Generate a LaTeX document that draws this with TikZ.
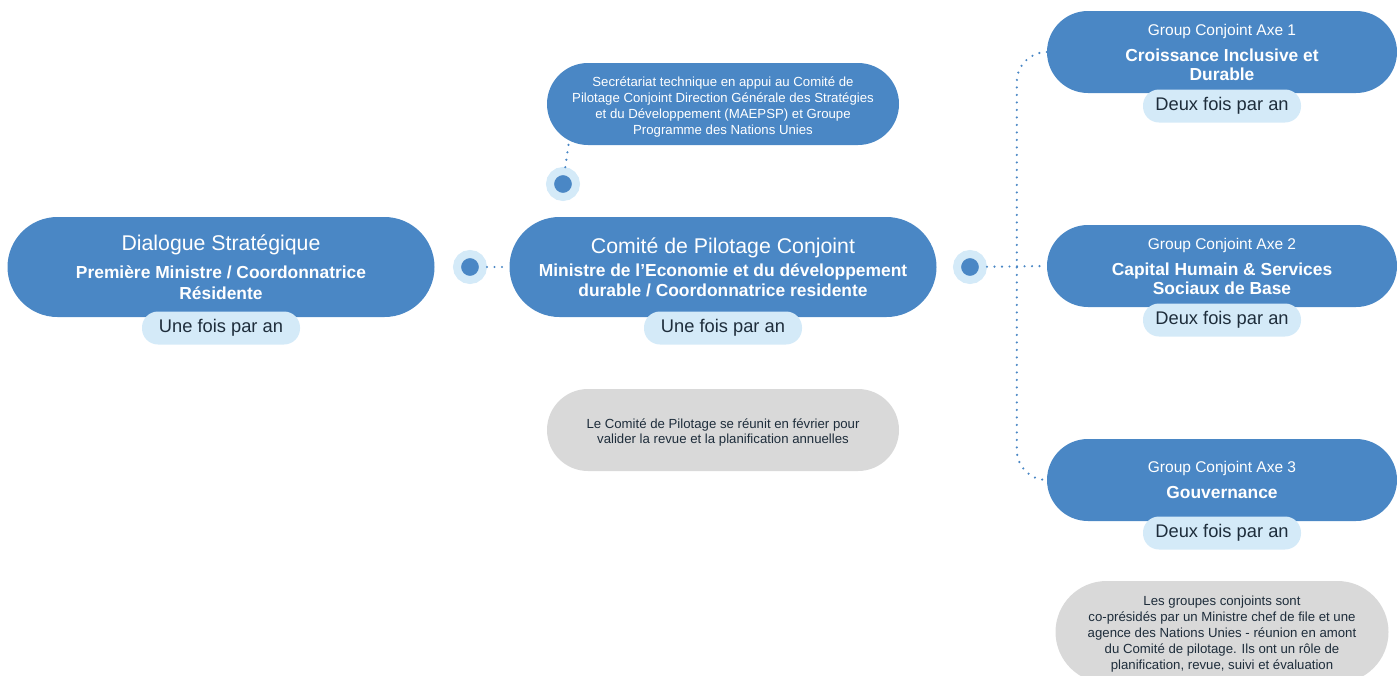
\documentclass[tikz,border=0pt]{standalone}
\usepackage{fontspec}
\setmainfont{Liberation Sans}

\definecolor{pblue}{HTML}{4A87C5}
\definecolor{lblue}{HTML}{D4EAF8}
\definecolor{lgrey}{HTML}{D9D9D9}
\definecolor{dtext}{HTML}{1E2D3B}

\tikzset{
	pill/.style={rectangle, fill=pblue, text=white, align=center, inner sep=0pt},
	big/.style={pill, minimum width=427pt, minimum height=100pt, rounded corners=50pt, font=\fontsize{17.4}{20.5}\selectfont\bfseries},
	axe/.style={pill, minimum width=350pt, minimum height=82pt, rounded corners=41pt, font=\fontsize{17.4}{19}\selectfont\bfseries},
	badge/.style={rectangle, fill=lblue, text=dtext, minimum width=158pt, minimum height=33pt, rounded corners=16pt, font=\fontsize{18.3}{20}\selectfont},
	note/.style={rectangle, fill=lgrey, text=dtext, align=center, inner sep=0pt, font=\fontsize{13.2}{15}\selectfont},
	dot/.style={circle, fill=pblue, draw=lblue, line width=8pt, minimum size=26pt, inner sep=0pt},
	link/.style={pblue, line width=2.4pt, line cap=round, dash pattern=on 0pt off 7.5pt},
}
\newcommand{\ttlbig}[1]{{\mdseries\fontsize{21.3}{21}\selectfont #1}}
\newcommand{\ttlaxe}[1]{{\mdseries\fontsize{15.5}{19}\selectfont #1}}

\begin{document}
\begin{tikzpicture}[x=1pt, y=-1pt]
	\clip (0,0) rectangle (1397,675);

	% main line
	\node [big] (D) at (221,267) {\ttlbig{Dialogue Stratégique}\\[8pt]Première Ministre / Coordonnatrice\\Résidente};
	\node [badge] (Db) at (221,328) {Une fois par an};
	\node [dot] (d1) at (470,267) {};

	\node [big] (C) at (723,267) {\ttlbig{Comité de Pilotage Conjoint}\\[3pt]Ministre de l'Economie et du développement\\[-1pt]durable / Coordonnatrice residente};
	\node [badge] (Cb) at (723,328) {Une fois par an};
	\node [dot] (d2) at (970,267) {};

	% secretariat
	\node [pill, minimum width=352pt, minimum height=82pt, rounded corners=41pt, font=\fontsize{13.2}{16}\selectfont] (S) at (723,104) {\rule{0pt}{16pt}Secrétariat technique en appui au Comité de\\Pilotage Conjoint Direction Générale des Stratégies\\et du Développement (MAEPSP) et Groupe\\Programme des Nations Unies};
	\node [dot] (d3) at (563,184) {};
	\coordinate (s1) at (569,141);

	\node [note, minimum width=352pt, minimum height=82pt, rounded corners=41pt] (N1) at (723,430) {\rule{0pt}{15pt}Le Comité de Pilotage se réunit en février pour\\valider la revue et la planification annuelles};

	% groupes conjoints
	\node [axe] (G1) at (1222,52) {\ttlaxe{Group Conjoint Axe 1}\\[7pt]Croissance Inclusive et\\Durable};
	\node [badge] (G1b) at (1222,106) {Deux fois par an};
	\node [axe] (G2) at (1222,266) {\ttlaxe{Group Conjoint Axe 2}\\[7pt]Capital Humain \& Services\\Sociaux de Base};
	\node [badge] (G2b) at (1222,320) {Deux fois par an};
	\node [axe] (G3) at (1222,480) {\ttlaxe{Group Conjoint Axe 3}\\[7pt]Gouvernance};
	\node [badge] (G3b) at (1222,533) {Deux fois par an};

	\node [note, minimum width=333pt, minimum height=102pt, rounded corners=51pt, font=\fontsize{13.2}{16}\selectfont] (N2) at (1222,632) {\rule{0pt}{13pt}Les groupes conjoints sont\\co-présidés par un Ministre chef de file et une\\agence des Nations Unies - réunion en amont\\du Comité de pilotage. Ils ont un rôle de\\planification, revue, suivi et évaluation};

	\draw [link] (d1) -- (C.west);
	\draw [link] (d3) -- (s1);
	\draw [link] (d2) -- (G2.west);
	\draw [link, rounded corners=30pt] (G1.west) -- ++(-30,0) |- (G3.west);
	%\draw [link] (C.east) -- (d2);
\end{tikzpicture}
\end{document}
